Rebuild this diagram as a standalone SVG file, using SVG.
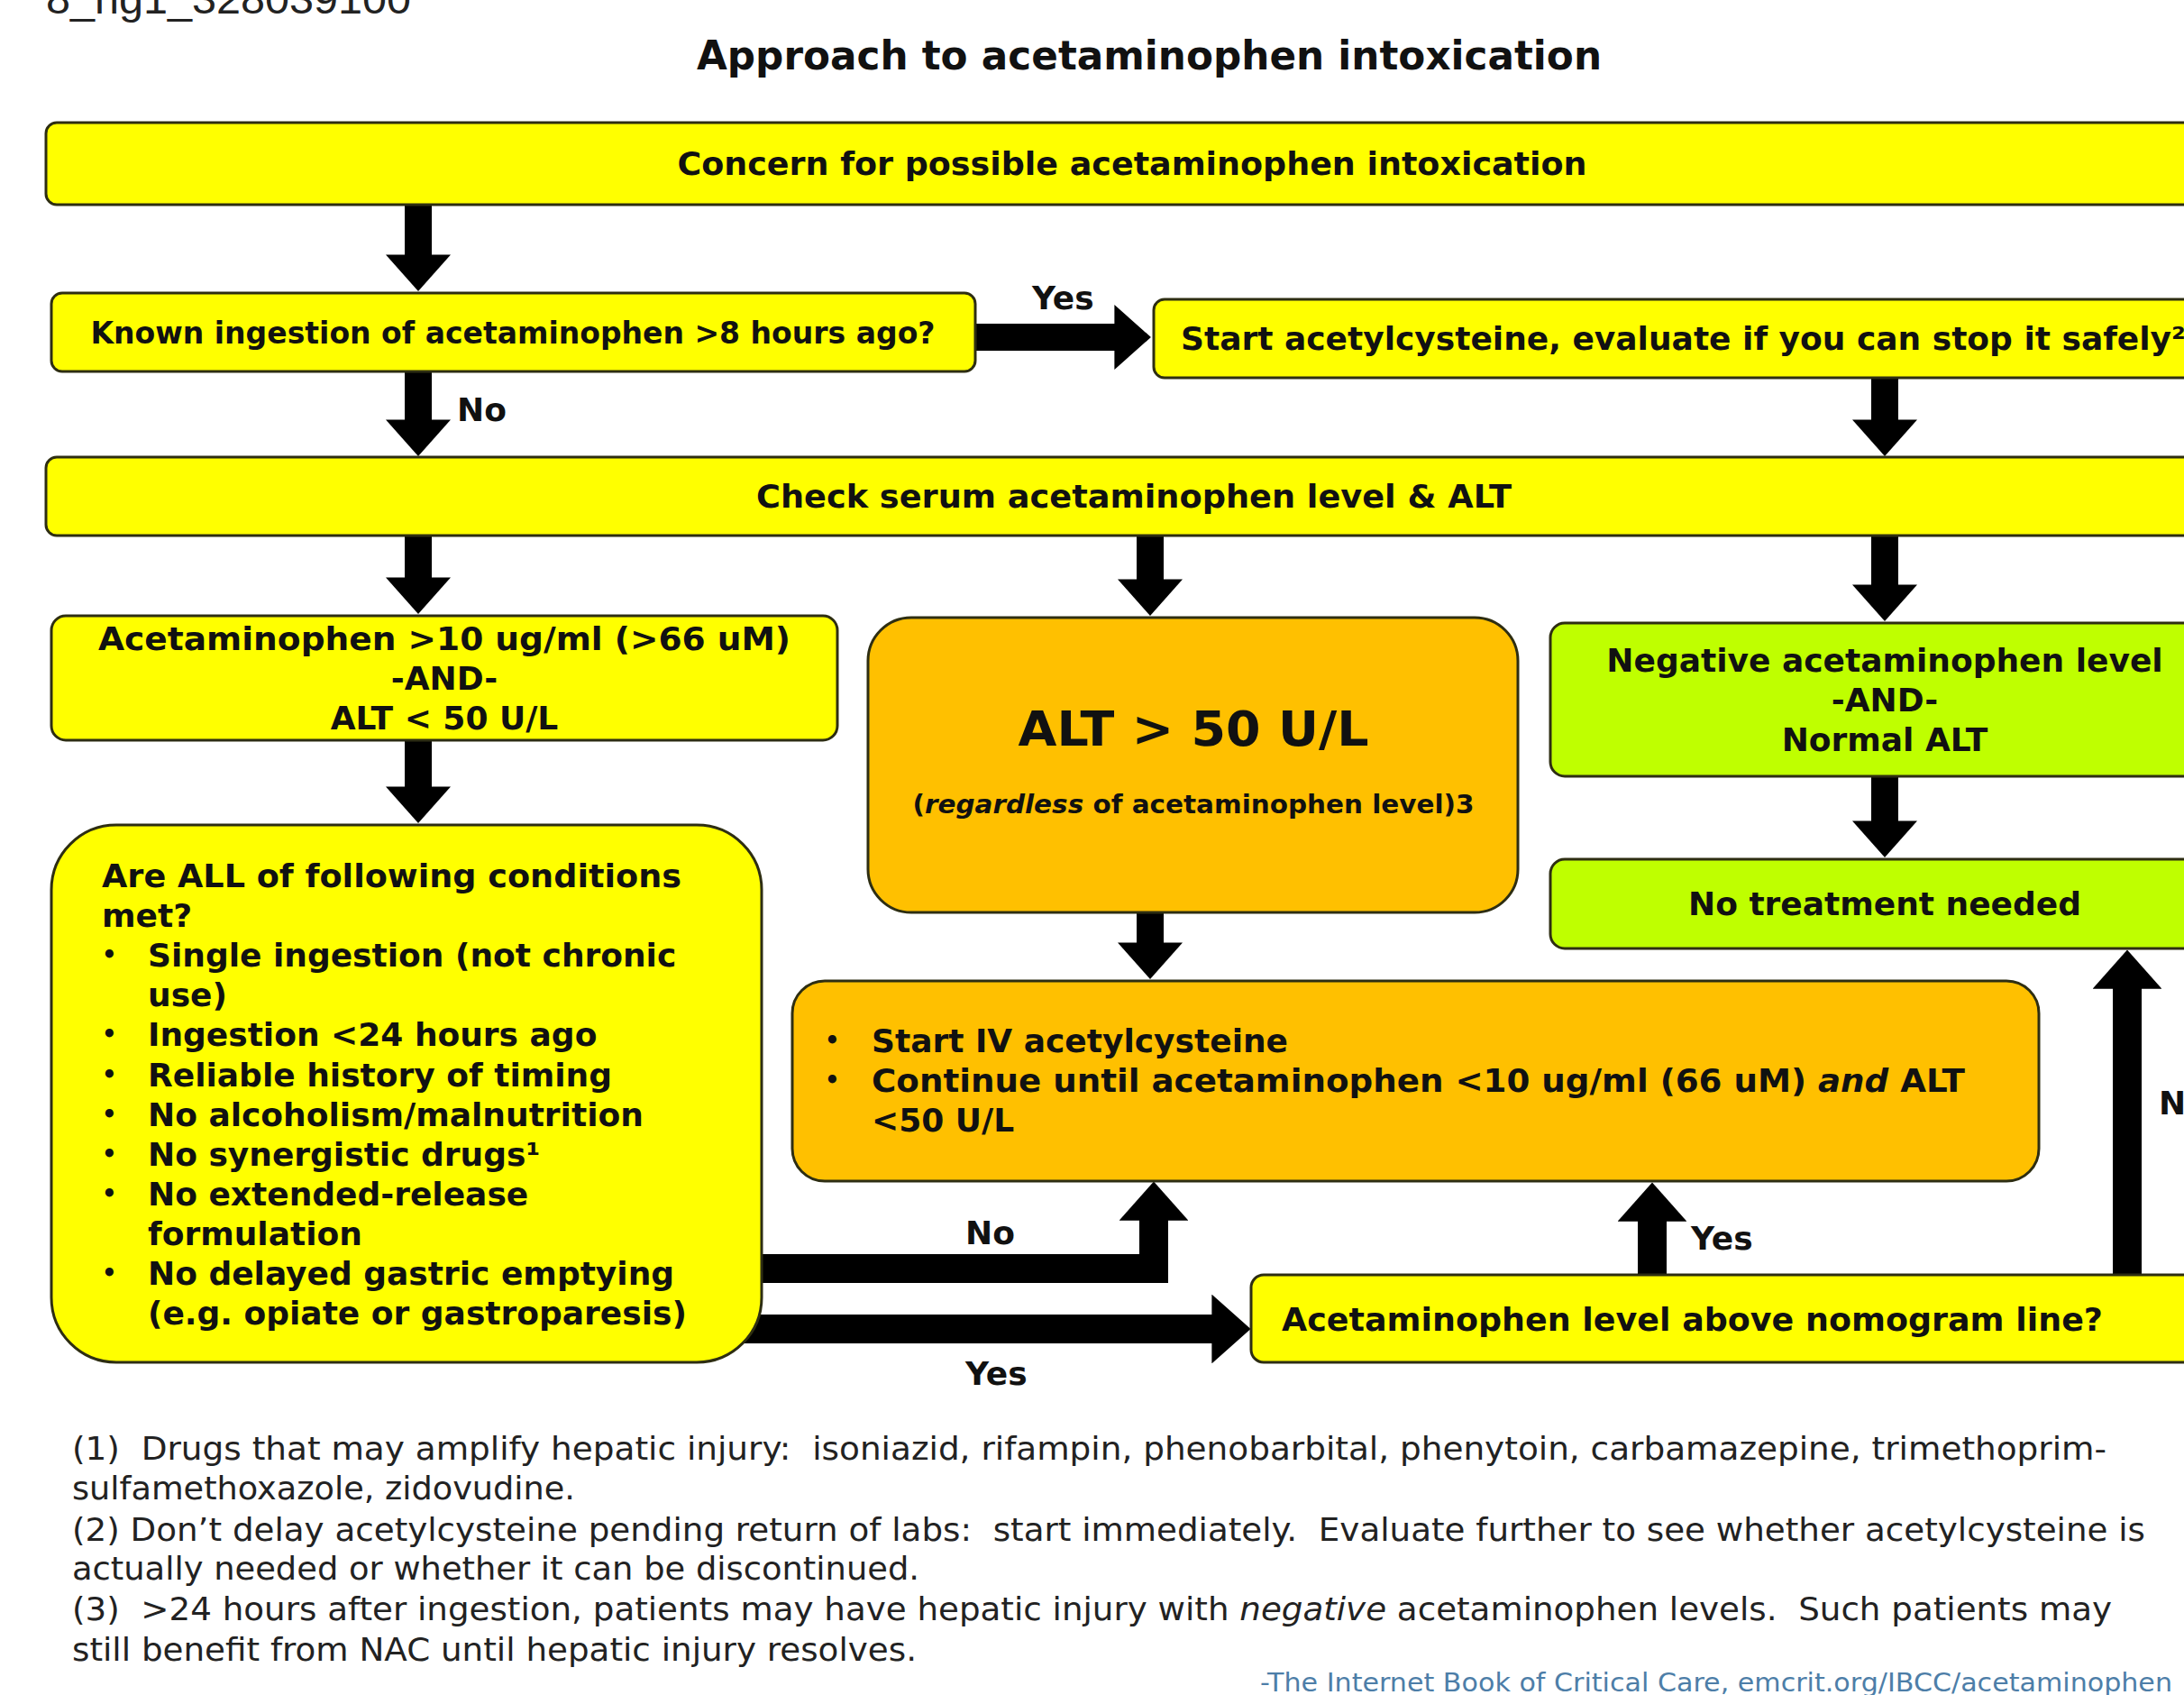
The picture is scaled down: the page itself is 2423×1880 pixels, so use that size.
<svg xmlns="http://www.w3.org/2000/svg" width="2423" height="1880" viewBox="0 0 2423 1880">
<style>
.t{font-family:"DejaVu Sans",Verdana,sans-serif;font-weight:bold;fill:#111}
.box{stroke:#2e2e12;stroke-width:3}
.y{fill:#FFFF00}.o{fill:#FFC000}.g{fill:#BFFF00}
.s36{font-size:36px}.s33{font-size:33px}
.fn{font-family:"DejaVu Sans",Verdana,sans-serif;font-size:35px;fill:#222}
.c{stroke:#000;fill:none;marker-end:url(#ah)}
</style>
<defs>
<marker id="ah" viewBox="0 0 1.35 2.4" refX="0.02" refY="1.2" markerWidth="1.35" markerHeight="2.4" orient="auto" markerUnits="strokeWidth"><path d="M0,0 L1.35,1.2 L0,2.4 z" fill="#000"/></marker>
</defs>
<rect width="2423" height="1880" fill="#fff"/>
<text x="51" y="15" font-family="Liberation Sans,Arial,sans-serif" font-size="46" fill="#222" textLength="405" lengthAdjust="spacingAndGlyphs">8_ng1_328039100</text>
<text class="t" x="1275" y="77" font-size="44" text-anchor="middle" textLength="1004" lengthAdjust="spacingAndGlyphs">Approach to acetaminophen intoxication</text>

<g id="connectors">
<line class="c" x1="464" y1="227" x2="464" y2="283" stroke-width="30"/>
<line class="c" x1="464" y1="412" x2="464" y2="466" stroke-width="30"/>
<line class="c" x1="2091" y1="419" x2="2091" y2="466" stroke-width="30"/>
<line class="c" x1="464" y1="594" x2="464" y2="641" stroke-width="30"/>
<line class="c" x1="1276" y1="594" x2="1276" y2="643" stroke-width="30"/>
<line class="c" x1="2091" y1="594" x2="2091" y2="649" stroke-width="30"/>
<line class="c" x1="464" y1="821" x2="464" y2="873" stroke-width="30"/>
<line class="c" x1="1276" y1="1012" x2="1276" y2="1046" stroke-width="30"/>
<line class="c" x1="2091" y1="861" x2="2091" y2="911" stroke-width="30"/>
<line class="c" x1="1082" y1="374" x2="1237" y2="374" stroke-width="30"/>
<polyline class="c" points="830,1407 1280,1407 1280,1353" stroke-width="32" stroke-linejoin="miter"/>
<line class="c" x1="790" y1="1474" x2="1345" y2="1474" stroke-width="32"/>
<line class="c" x1="1833" y1="1414" x2="1833" y2="1354" stroke-width="32"/>
<line class="c" x1="2360" y1="1414" x2="2360" y2="1096" stroke-width="32"/>
<text class="t s36" x="1145" y="343">Yes</text>
<text class="t s36" x="507" y="467">No</text>
<text class="t s36" x="1071" y="1380">No</text>
<text class="t s36" x="1071" y="1536">Yes</text>
<text class="t s36" x="1876" y="1386">Yes</text>
<text class="t s36" x="2395" y="1236">No</text>
</g>

<g id="concern">
<rect class="box y" x="51" y="136" width="2440" height="91" rx="12"/>
<text class="t s36" x="1256" y="194" text-anchor="middle" textLength="1009" lengthAdjust="spacingAndGlyphs">Concern for possible acetaminophen intoxication</text>
</g>
<g id="known">
<rect class="box y" x="57" y="325" width="1025" height="87" rx="12"/>
<text class="t s33" x="569" y="381" text-anchor="middle" textLength="937" lengthAdjust="spacingAndGlyphs">Known ingestion of acetaminophen &gt;8 hours ago?</text>
</g>
<g id="start">
<rect class="box y" x="1280" y="332" width="1200" height="87" rx="12"/>
<text class="t s36" x="1310" y="388">Start acetylcysteine, evaluate if you can stop it safely²</text>
</g>
<g id="check">
<rect class="box y" x="51" y="507" width="2440" height="87" rx="12"/>
<text class="t s36" x="1258" y="563" text-anchor="middle" textLength="838" lengthAdjust="spacingAndGlyphs">Check serum acetaminophen level &amp; ALT</text>
</g>
<g id="acet">
<rect class="box y" x="57" y="683" width="872" height="138" rx="16"/>
<text class="t s36" x="493" y="721" text-anchor="middle" textLength="768" lengthAdjust="spacingAndGlyphs">Acetaminophen &gt;10 ug/ml (&gt;66 uM)</text>
<text class="t s36" x="493" y="765" text-anchor="middle">-AND-</text>
<text class="t s36" x="493" y="809" text-anchor="middle">ALT &lt; 50 U/L</text>
</g>
<g id="alt">
<rect class="box o" x="963" y="685" width="721" height="327" rx="48"/>
<text class="t" x="1324" y="827" font-size="54" text-anchor="middle" textLength="389" lengthAdjust="spacingAndGlyphs">ALT &gt; 50 U/L</text>
<text class="t" x="1324" y="902" font-size="29" text-anchor="middle" textLength="623" lengthAdjust="spacingAndGlyphs">(<tspan font-style="italic">regardless</tspan> of acetaminophen level)3</text>
</g>
<g id="negative">
<rect class="box g" x="1720" y="691" width="760" height="170" rx="16"/>
<text class="t s36" x="2091" y="745" text-anchor="middle">Negative acetaminophen level</text>
<text class="t s36" x="2091" y="789" text-anchor="middle">-AND-</text>
<text class="t s36" x="2091" y="833" text-anchor="middle">Normal ALT</text>
</g>
<g id="notreat">
<rect class="box g" x="1720" y="953" width="760" height="99" rx="16"/>
<text class="t s36" x="2091" y="1015" text-anchor="middle">No treatment needed</text>
</g>
<g id="areall">
<rect class="box y" x="57" y="915" width="788" height="596" rx="72"/>
<g class="t s36">
<text x="113" y="984" textLength="643" lengthAdjust="spacingAndGlyphs">Are ALL of following conditions</text>
<text x="113" y="1028">met?</text>
<text x="164" y="1072">Single ingestion (not chronic</text>
<text x="164" y="1116">use)</text>
<text x="164" y="1160">Ingestion &lt;24 hours ago</text>
<text x="164" y="1205">Reliable history of timing</text>
<text x="164" y="1249">No alcoholism/malnutrition</text>
<text x="164" y="1293">No synergistic drugs¹</text>
<text x="164" y="1337">No extended-release</text>
<text x="164" y="1381">formulation</text>
<text x="164" y="1425">No delayed gastric emptying</text>
<text x="164" y="1469">(e.g. opiate or gastroparesis)</text>
</g>
<g class="t" font-size="26">
<text x="113" y="1068">•</text>
<text x="113" y="1156">•</text>
<text x="113" y="1201">•</text>
<text x="113" y="1245">•</text>
<text x="113" y="1289">•</text>
<text x="113" y="1333">•</text>
<text x="113" y="1421">•</text>
</g>
</g>
<g id="startiv">
<rect class="box o" x="879" y="1088" width="1383" height="222" rx="36"/>
<g class="t" font-size="26">
<text x="915" y="1163">•</text>
<text x="915" y="1207">•</text>
</g>
<text class="t s36" x="967" y="1167">Start IV acetylcysteine</text>
<text class="t s36" x="967" y="1211" textLength="1213" lengthAdjust="spacingAndGlyphs">Continue until acetaminophen &lt;10 ug/ml (66 uM) <tspan font-style="italic">and</tspan> ALT</text>
<text class="t s36" x="967" y="1255">&lt;50 U/L</text>
</g>
<g id="nomogram">
<rect class="box y" x="1388" y="1414" width="1100" height="97" rx="14"/>
<text class="t s36" x="1422" y="1476" textLength="911" lengthAdjust="spacingAndGlyphs">Acetaminophen level above nomogram line?</text>
</g>

<g id="footnotes" class="fn">
<text x="80" y="1619" xml:space="preserve" textLength="2257" lengthAdjust="spacingAndGlyphs">(1)  Drugs that may amplify hepatic injury:  isoniazid, rifampin, phenobarbital, phenytoin, carbamazepine, trimethoprim-</text>
<text x="80" y="1663" textLength="558" lengthAdjust="spacingAndGlyphs">sulfamethoxazole, zidovudine.</text>
<text x="80" y="1709" xml:space="preserve" textLength="2300" lengthAdjust="spacingAndGlyphs">(2) Don’t delay acetylcysteine pending return of labs:  start immediately.  Evaluate further to see whether acetylcysteine is</text>
<text x="80" y="1752" textLength="940" lengthAdjust="spacingAndGlyphs">actually needed or whether it can be discontinued.</text>
<text x="80" y="1797" xml:space="preserve" textLength="2263" lengthAdjust="spacingAndGlyphs">(3)  &gt;24 hours after ingestion, patients may have hepatic injury with <tspan font-style="italic">negative</tspan> acetaminophen levels.  Such patients may</text>
<text x="80" y="1842" textLength="937" lengthAdjust="spacingAndGlyphs">still benefit from NAC until hepatic injury resolves.</text>
<text x="1398" y="1876" font-size="28" fill="#4d7ea8" textLength="1012" lengthAdjust="spacingAndGlyphs">-The Internet Book of Critical Care, emcrit.org/IBCC/acetaminophen</text>
</g>
</svg>
